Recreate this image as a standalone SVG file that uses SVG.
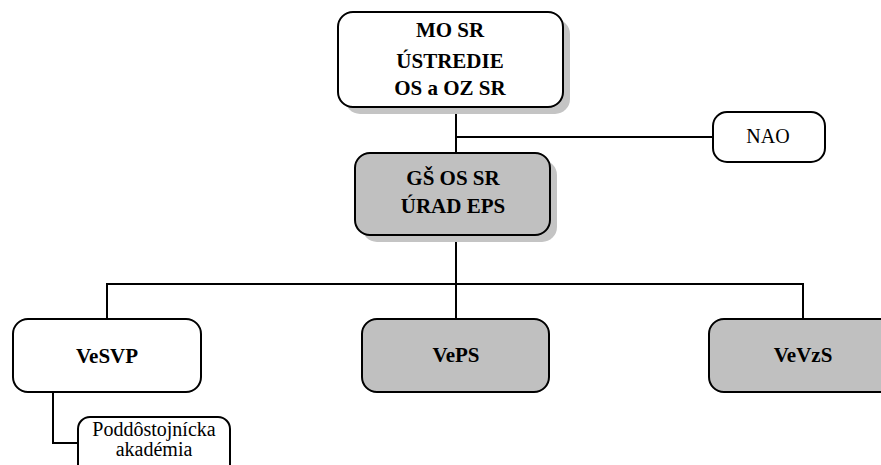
<svg xmlns="http://www.w3.org/2000/svg" width="881" height="465" viewBox="0 0 881 465">
<style>
.box{stroke:#000;stroke-width:2}
.w{fill:#fff}
.g{fill:#c0c0c0}
.sh{fill:#c4c4c4}
.b{font-weight:bold;font-size:21px;text-anchor:middle;fill:#000}
.r{font-size:20px;text-anchor:middle;fill:#000}
.ln{stroke:#000;stroke-width:2;fill:none}
</style>
<rect width="881" height="465" fill="#fff"/>
<g id="connectors">
<line class="ln" x1="456" y1="107" x2="456" y2="153"/>
<line class="ln" x1="456" y1="137" x2="713" y2="137"/>
<line class="ln" x1="456" y1="235" x2="456" y2="284"/>
<polyline class="ln" points="107,319 107,284 803,284 803,319"/>
<line class="ln" x1="456" y1="284" x2="456" y2="319"/>
<polyline class="ln" points="53,392 53,443 78,443"/>
</g>
<g font-family="'Liberation Serif', 'Times New Roman', 'DejaVu Serif', serif">
<g id="mo-sr">
<rect class="sh" x="345" y="19" width="225" height="95" rx="15"/>
<rect class="box w" x="338" y="12" width="225" height="95" rx="15"/>
<text class="b" x="450" y="37">MO SR</text>
<text class="b" x="450" y="68">ÚSTREDIE</text>
<text class="b" x="450" y="95">OS a OZ SR</text>
</g>
<g id="nao">
<rect class="box w" x="713" y="112" width="112" height="50" rx="14"/>
<text class="r" x="768" y="143">NAO</text>
</g>
<g id="gs-os-sr">
<rect class="sh" x="362" y="160" width="195" height="82" rx="15"/>
<rect class="box g" x="355" y="153" width="195" height="82" rx="15"/>
<text class="b" x="453" y="185">GŠ OS SR</text>
<text class="b" x="453" y="213">ÚRAD EPS</text>
</g>
<g id="vesvp">
<rect class="box w" x="13" y="319" width="188" height="73" rx="15"/>
<text class="b" x="107" y="363" font-size="20">VeSVP</text>
</g>
<g id="veps">
<rect class="box g" x="362" y="319" width="187" height="73" rx="15"/>
<text class="b" x="456" y="362" font-size="20">VePS</text>
</g>
<g id="vevzs">
<rect class="box g" x="709" y="319" width="190" height="73" rx="15"/>
<text class="b" x="803" y="362" font-size="20">VeVzS</text>
</g>
<g id="poddostojnicka">
<rect class="box w" x="78" y="417" width="152" height="60" rx="12"/>
<text class="r" x="154" y="436" style="font-size:20px">Poddôstojnícka</text>
<text class="r" x="154" y="456" style="font-size:20px">akadémia</text>
</g>
</g>
</svg>
